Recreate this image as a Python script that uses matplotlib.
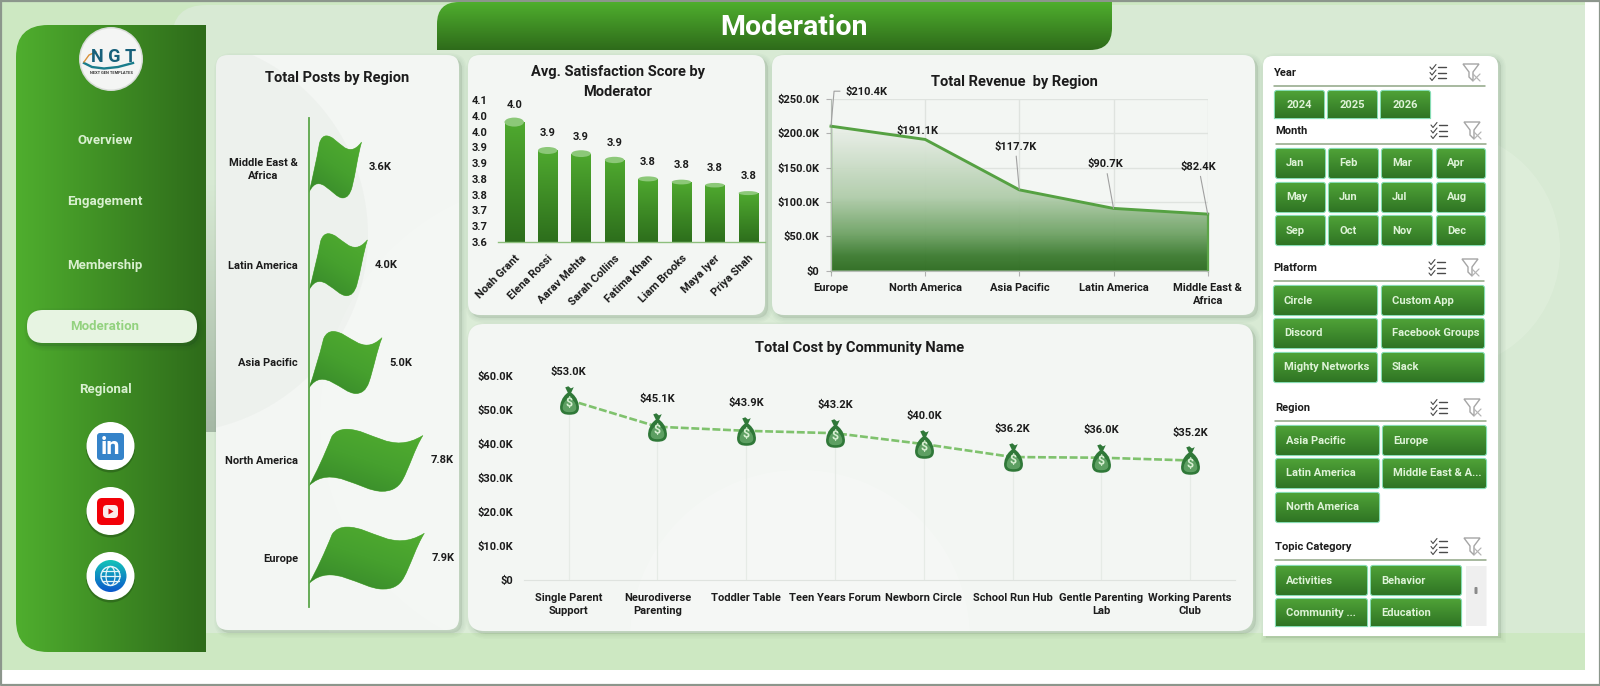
import numpy as np
import matplotlib
matplotlib.use('Agg')
import matplotlib.pyplot as plt
from matplotlib.path import Path
from matplotlib.patches import PathPatch, Circle, Ellipse, Polygon
from matplotlib.colors import LinearSegmentedColormap
from matplotlib.ticker import FuncFormatter, FixedLocator
from matplotlib.transforms import Affine2D

plt.rcParams['font.family'] = ['Roboto', 'DejaVu Sans']
plt.rcParams['font.weight'] = 'semibold'

W, H = 1600, 686

nav_items = ['Overview', 'Engagement', 'Membership', 'Moderation', 'Regional']

post_regions = ['Europe', 'North America', 'Asia Pacific', 'Latin America', 'Middle East &\nAfrica']
post_values = [7.9, 7.8, 5.0, 4.0, 3.6]

moderators = ['Noah Grant', 'Elena Rossi', 'Aarav Mehta', 'Sarah Collins', 'Fatima Khan', 'Liam Brooks', 'Maya Iyer', 'Priya Shah']
satisfaction = [4.02, 3.93, 3.92, 3.90, 3.84, 3.83, 3.82, 3.795]
satisfaction_ticks = [3.64, 3.69, 3.74, 3.79, 3.84, 3.89, 3.94, 3.99, 4.04, 4.09]

revenue_regions = ['Europe', 'North America', 'Asia Pacific', 'Latin America', 'Middle East &\nAfrica']
revenue_values = [210.4, 191.1, 117.7, 90.7, 82.4]

communities = ['Single Parent\nSupport', 'Neurodiverse\nParenting', 'Toddler Table', 'Teen Years Forum', 'Newborn Circle', 'School Run Hub', 'Gentle Parenting\nLab', 'Working Parents\nClub']
cost_values = [53.0, 45.1, 43.9, 43.2, 40.0, 36.2, 36.0, 35.2]

years = ['2024', '2025', '2026']
months = ['Jan', 'Feb', 'Mar', 'Apr', 'May', 'Jun', 'Jul', 'Aug', 'Sep', 'Oct', 'Nov', 'Dec']
platforms = ['Circle', 'Custom App', 'Discord', 'Facebook Groups', 'Mighty Networks', 'Slack']
slicer_regions = ['Asia Pacific', 'Europe', 'Latin America', 'Middle East & A...', 'North America']
topics = ['Activities', 'Behavior', 'Community ...', 'Education']

GREEN_TOP = '#4fae2e'
GREEN_DARK = '#2e6b1a'
INK = '#1c1c1c'
LIGHT_BG = '#d8ead4'

fig = plt.figure(figsize=(W / 100, H / 100), dpi=100, facecolor='white')
bg = fig.add_axes([0, 0, 1, 1])
bg.set_xlim(0, W)
bg.set_ylim(H, 0)
bg.axis('off')
bg.set_autoscale_on(False)


def px_axes(x0, y0, x1, y1):
    ax = fig.add_axes([x0 / W, 1 - y1 / H, (x1 - x0) / W, (y1 - y0) / H])
    ax.set_facecolor('none')
    return ax


def rr_path(x0, y0, x1, y1, tl=0, tr=0, br=0, bl=0):
    v = [(x0 + tl, y0), (x1 - tr, y0), (x1, y0), (x1, y0 + tr), (x1, y1 - br), (x1, y1), (x1 - br, y1),
         (x0 + bl, y1), (x0, y1), (x0, y1 - bl), (x0, y0 + tl), (x0, y0), (x0 + tl, y0), (x0 + tl, y0)]
    c = [Path.MOVETO, Path.LINETO, Path.CURVE3, Path.CURVE3, Path.LINETO, Path.CURVE3, Path.CURVE3,
         Path.LINETO, Path.CURVE3, Path.CURVE3, Path.LINETO, Path.CURVE3, Path.CURVE3, Path.CLOSEPOLY]
    return Path(v, c)


def fill(path, color, alpha=1, ec='none', lw=0):
    bg.add_patch(PathPatch(path, fc=color, ec=ec, lw=lw, alpha=alpha, zorder=1))


def grad_fill(path, c1, c2, horizontal=False):
    ext = path.get_extents()
    ramp = np.linspace(0, 1, 256)
    ramp = ramp.reshape(1, -1) if horizontal else ramp.reshape(-1, 1)
    cmap = LinearSegmentedColormap.from_list('g', [c1, c2])
    im = bg.imshow(ramp, cmap=cmap, aspect='auto', zorder=1, interpolation='bilinear',
                   extent=(ext.x0, ext.x1, ext.y1, ext.y0))
    im.set_clip_path(path, bg.transData)


def shadow(path, dx=3, dy=3, strength=0.024):
    moved = path.transformed(Affine2D().translate(dx, dy))
    for lw in [7, 5, 3, 1]:
        bg.add_patch(PathPatch(moved, fc='#25402a', ec='#25402a', lw=lw, alpha=strength, zorder=1))


def panel(x0, y0, x1, y1, r=12, color='#f3f6f3'):
    p = rr_path(x0, y0, x1, y1, r, r, r, r)
    shadow(p)
    fill(p, color)
    return p


def tint(center, radius, color, alpha, clip):
    disc = Circle(center, radius, fc=color, ec='none', alpha=alpha, zorder=1)
    bg.add_patch(disc)
    disc.set_clip_path(clip, bg.transData)


def pline(xs, ys, color, lw=1, alpha=1):
    bg.plot(xs, ys, color=color, lw=lw, alpha=alpha, zorder=1, solid_capstyle='round')


# page background
fill(rr_path(2, 2, 1585, 670), '#cde8c2')
light_area = rr_path(172, 5, 1585, 633, 34, 0, 0, 0)
fill(light_area, LIGHT_BG)
tint((1440, 250), 120, '#e2f0de', 0.6, light_area)
tint((610, 560), 290, '#e2f0de', 0.35, light_area)
grad_fill(rr_path(206, 180, 216, 432), LIGHT_BG, '#a5b8a5')
bg.plot([0.5, 0.5, 1599.5, 1599.5, 0.5], [0.5, 685, 685, 0.5, 0.5], color='#8c968c', lw=1.6, zorder=1)

# sidebar
side = rr_path(16, 25, 206, 652, 32, 0, 0, 32)
grad_fill(side, GREEN_TOP, GREEN_DARK, horizontal=True)

for name, y in zip(nav_items, [140.5, 202, 265, 327, 390]):
    if name == 'Moderation':
        pill = rr_path(27, 310, 197, 343, 16, 16, 16, 16)
        shadow(pill, 2, 3, 0.04)
        fill(pill, '#e7f4e2')
        bg.text(105, y, name, ha='center', va='center', fontsize=9.5, fontweight='bold', color='#93d27f')
    else:
        bg.text(105, y, name, ha='center', va='center', fontsize=9.5, fontweight='bold', color='#d9f0d0')

# logo badge
bg.add_patch(Circle((111, 59), 32, fc='#d9ddd9', ec='none', zorder=1))
bg.add_patch(Circle((111, 59), 30.5, fc='#f4f5f4', ec='none', zorder=1))
bg.plot([84, 92, 104, 118, 133], [63, 67, 68.5, 67, 63], color='#1a7d8c', lw=1.7, zorder=1)
bg.plot([84, 89, 96], [62, 55, 52], color='#d9913a', lw=1.0, zorder=1)
bg.text(114, 57, 'N G T', ha='center', va='center', fontsize=13, fontweight='bold', color='#17607a')
bg.text(111, 73.5, 'NEXT GEN TEMPLATES', ha='center', va='center', fontsize=2.9, fontweight='bold', color='#333333')


def badge(y):
    bg.add_patch(Circle((110.5, y + 2), 24.5, fc='#173a10', ec='none', alpha=0.35, zorder=1))
    bg.add_patch(Circle((110.5, y), 24, fc='white', ec='none', zorder=1))


# social icons
badge(446)
fill(rr_path(97, 433, 124, 460, 3, 3, 3, 3), '#3583c9')
bg.text(110.5, 447.5, 'in', ha='center', va='center', fontsize=17, fontweight='bold', color='white')
badge(511)
fill(rr_path(97, 498, 124, 525, 5, 5, 5, 5), '#f20008')
fill(rr_path(103, 505, 118, 518, 4, 4, 4, 4), '#fbeaea')
bg.add_patch(Polygon([[108.5, 508.5], [108.5, 514.5], [113.5, 511.5]], fc='#e00008', ec='none', zorder=1))
badge(576)
globe = Path.circle((110.5, 576), 16)
grad_fill(globe, '#14c4b8', '#0a57cc')
bg.add_patch(Circle((110.5, 576), 9.5, fc='none', ec='#e4f4f8', lw=1, zorder=1))
bg.add_patch(Ellipse((110.5, 576), 9, 19, fc='none', ec='#e4f4f8', lw=0.9, zorder=1))
for gy in [571, 576, 581]:
    half = np.sqrt(9.5 ** 2 - (gy - 576) ** 2)
    pline([110.5 - half, 110.5 + half], [gy, gy], '#e4f4f8', 0.9)

# header bar
bar_path = rr_path(437, 2, 1112, 50, 22, 0, 22, 0)
grad_fill(bar_path, GREEN_TOP, GREEN_DARK)
bg.text(794, 27.5, 'Moderation', ha='center', va='center', fontsize=20.5, fontweight='bold', color='white')

# chart cards
posts_card = panel(216, 55, 459, 630)
panel(468, 55, 765, 315)
panel(772, 55, 1255, 315)
cost_card = panel(468, 324, 1253, 631, r=16)
tint((170, 235), 198, '#5a6a5a', 0.035, posts_card)
tint((560, 420), 240, '#ffffff', 0.14, posts_card)
tint((800, 640), 170, '#ffffff', 0.2, cost_card)

bg.text(337, 78, 'Total Posts by Region', ha='center', va='center', fontsize=10.5, fontweight='bold', color=INK)
bg.text(618, 82, 'Avg. Satisfaction Score by\nModerator', ha='center', va='center', fontsize=10.5, fontweight='bold',
        color=INK, linespacing=1.5)
bg.text(1014, 82, 'Total Revenue  by Region', ha='center', va='center', fontsize=10.5, fontweight='bold', color=INK)
bg.text(860, 348, 'Total Cost by Community Name', ha='center', va='center', fontsize=10.5, fontweight='bold', color=INK)

# slicer panel
slicer_card = rr_path(1263, 56, 1498, 636, 10, 10, 0, 0)
shadow(slicer_card, 3, 2)
fill(slicer_card, 'white')


def slicer_header(name, x0, x1, y, rule_y):
    bg.text(x0, y, name, ha='left', va='center', fontsize=8, fontweight='bold', color=INK)
    pline([x0, x1], [rule_y, rule_y], '#8fa585', 1.1)
    ix = x1 - 47
    for k in range(3):
        yy = y - 6 + k * 5.5
        pline([ix - 8, ix - 6, ix - 2], [yy, yy + 2.5, yy - 2.5], '#4a4a4a', 0.8)
        pline([ix, ix + 8], [yy, yy], '#4a4a4a', 1.0)
    fx = x1 - 12
    bg.add_patch(Polygon([[fx - 10, y - 9], [fx + 6, y - 9], [fx, y - 1], [fx, y + 8], [fx - 4, y + 4], [fx - 4, y - 1]],
                         fc='none', ec='#a5a5a5', lw=1, zorder=1))
    pline([fx, fx + 7], [y + 1, y + 8], '#b5b5b5', 0.9)
    pline([fx + 7, fx], [y + 1, y + 8], '#b5b5b5', 0.9)


def slicer_button(label, x0, y0, x1, y1, center=False, clipped=False):
    p = rr_path(x0, y0, x1, y1, 2, 2, 0 if clipped else 2, 0 if clipped else 2)
    fill(p, 'none', ec='#86dcb4', lw=1.6)
    grad_fill(p, '#4fa237', '#2f7424')
    tx = (x0 + x1) / 2 if center else x0 + 10
    bg.text(tx, (y0 + y1) / 2 + (1 if clipped else 0), label, ha='center' if center else 'left', va='center',
            fontsize=8, fontweight='bold', color='#def3d7')


slicer_header('Year', 1274, 1485, 73, 86)
for label, x0 in zip(years, [1275, 1328, 1381]):
    slicer_button(label, x0, 91, x0 + 49, 118, center=True, clipped=True)

slicer_header('Month', 1275.5, 1486, 131, 144)
month_cols = [(1276, 1325), (1329, 1378), (1382, 1432), (1437, 1485)]
month_rows = [(149, 178), (183, 212), (216, 245)]
for i, label in enumerate(months):
    x0, x1 = month_cols[i % 4]
    y0, y1 = month_rows[i // 4]
    slicer_button(label, x0, y0, x1, y1)

slicer_header('Platform', 1273.5, 1484, 268, 281)
for i, label in enumerate(platforms):
    x0, x1 = [(1274, 1377), (1382, 1484)][i % 2]
    y0, y1 = [(286, 315), (319, 348), (353, 382)][i // 2]
    slicer_button(label, x0, y0, x1, y1)

slicer_header('Region', 1275, 1486, 408, 421)
for i, label in enumerate(slicer_regions):
    x0, x1 = [(1276, 1379), (1383, 1486)][i % 2]
    y0, y1 = [(426, 455), (459, 488), (493, 522)][i // 2]
    slicer_button(label, x0, y0, x1, y1)

slicer_header('Topic Category', 1275, 1486, 547, 560)
for i, label in enumerate(topics):
    x0, x1 = [(1276, 1367), (1371, 1461)][i % 2]
    y0, y1 = [(566, 595), (599, 626)][i // 2]
    slicer_button(label, x0, y0, x1, y1, clipped=i > 1)
fill(rr_path(1466, 566, 1486.5, 626), '#efefef')
fill(rr_path(1474.5, 587, 1477.5, 594, 1, 1, 1, 1), '#8a8a8a')

# posts by region: flags along a vertical pole
flag_ax = px_axes(309, 118, 455, 607)
flag_ax.set_xlim(0, 10)
flag_ax.set_ylim(-0.5, 4.5)
flag_codes = [Path.MOVETO] + [Path.CURVE4] * 18 + [Path.CLOSEPOLY]
flag_x = [0, 0.06, 0.14, 0.20, 0.23, 0.28, 0.33, 0.55, 0.72, 1.0, 0.93, 0.88, 0.82, 0.78, 0.72, 0.64, 0.45, 0.2, 0, 0]
flag_y = [0.91, 0.72, 0.40, 0.12, 0.03, 0, 0, 0, 0.42, 0.10, 0.30, 0.62, 0.82, 0.95, 1.0, 1.0, 1.0, 0.55, 0.91, 0.91]
flag_cmap = LinearSegmentedColormap.from_list('flag', ['#35852a', '#46a02e', '#52ae30'])
flag_ramp = np.add.outer(np.linspace(1, 0, 64), np.linspace(0, 0.6, 64)) / 1.6
for i, (name, value) in enumerate(zip(post_regions, post_values)):
    verts = np.column_stack([np.array(flag_x) * value, i + (0.5 - np.array(flag_y)) * 0.634])
    path = Path(verts, flag_codes)
    flag_ax.add_patch(PathPatch(path, fc='#3f9429', ec='#6dbb55', lw=0.5))
    im = flag_ax.imshow(flag_ramp, cmap=flag_cmap, aspect='auto', extent=(0, value, i - 0.32, i + 0.32), zorder=2,
                        origin='upper')
    im.set_clip_path(path, flag_ax.transData)
    flag_ax.text(value + 0.52, i, f'{value:.1f}K', ha='left', va='center', fontsize=8, color=INK)
flag_ax.set_xlim(0, 10)
flag_ax.set_ylim(-0.5, 4.5)
flag_ax.set_yticks(range(5))
flag_ax.set_yticklabels(post_regions, fontsize=8, color=INK, multialignment='center', linespacing=1.4)
flag_ax.set_xticks([])
flag_ax.tick_params(axis='y', length=0, pad=8)
for side_name in ['top', 'right', 'bottom']:
    flag_ax.spines[side_name].set_visible(False)
flag_ax.spines['left'].set_color('#5ba64a')
flag_ax.spines['left'].set_linewidth(1.3)

# satisfaction score: cylinders
sat_ax = px_axes(497.5, 100, 765, 242)
xs = np.arange(len(moderators))
base = satisfaction_ticks[0]
top = satisfaction_ticks[-1]
bar_cmap = LinearSegmentedColormap.from_list('bar', ['#2d6e1c', '#4fa92f'])
sat_ax.set_xlim(-0.5, 7.5)
sat_ax.set_ylim(base, top)
sat_ax.set_autoscale_on(False)
bars = sat_ax.bar(xs, [v - base for v in satisfaction], bottom=base, width=0.58, color='#3f8f28', zorder=2)
px_per_unit = 142 / (top - base)
for x, v, rect in zip(xs, satisfaction, bars):
    im = sat_ax.imshow(np.linspace(1, 0, 128).reshape(-1, 1), cmap=bar_cmap, aspect='auto', zorder=2.1,
                       extent=(x - 0.29, x + 0.29, base, v))
    im.set_clip_path(rect)
    cap_px = 4 + 5 * (v - satisfaction[-1]) / (satisfaction[0] - satisfaction[-1])
    sat_ax.add_patch(Ellipse((x, v), 0.58, cap_px / px_per_unit, fc='#8cc878', ec='none', zorder=2.2, clip_on=False))
    sat_ax.annotate(f'{v:.1f}', (x, v), xytext=(0, 17), textcoords='offset pixels', ha='center', va='center',
                    fontsize=8, color=INK)
sat_ax.yaxis.set_major_locator(FixedLocator(satisfaction_ticks))
sat_ax.yaxis.set_major_formatter(FuncFormatter(lambda v, p: f'{v:.1f}'))
sat_ax.set_xticks(xs)
sat_ax.set_xticklabels(moderators, rotation=45, ha='right', rotation_mode='anchor', fontsize=8, color=INK)
sat_ax.tick_params(axis='x', length=0, pad=8)
sat_ax.tick_params(axis='y', length=0, pad=7, labelsize=8, labelcolor=INK)
for side_name in ['top', 'right', 'left']:
    sat_ax.spines[side_name].set_visible(False)
sat_ax.spines['bottom'].set_color('#8dbf7d')
sat_ax.spines['bottom'].set_linewidth(1)

# revenue: area chart with leader lines
rev_ax = px_axes(831, 99, 1207.7, 270.7)
rx = np.arange(len(revenue_regions))
rev_ax.set_xlim(0, 4)
rev_ax.set_ylim(0, 250)
rev_ax.set_autoscale_on(False)
rev_ax.grid(True, color='#dfe3df', lw=1)
rev_ax.set_axisbelow(True)
area = rev_ax.fill_between(rx, revenue_values, 0, color='none', zorder=1)
area_cmap = LinearSegmentedColormap.from_list('area', [(0, '#2b6a1e'), (0.1, '#3a7a2e'), (0.25, '#6ea264'),
                                                      (0.5, '#b0ccaa'), (1, '#eef2ed')])
im = rev_ax.imshow(np.linspace(1, 0, 256).reshape(-1, 1), cmap=area_cmap, aspect='auto', alpha=0.95, zorder=1.5,
                   extent=(0, 4, 0, 215))
im.set_clip_path(area.get_paths()[0], rev_ax.transData)
rev_ax.plot([rx[0], rx[0]], [0, revenue_values[0]], color='#5ca548', lw=1, clip_on=False, zorder=2)
rev_ax.plot([rx[-1], rx[-1]], [0, revenue_values[-1]], color='#5ca548', lw=1.6, clip_on=False, zorder=2)
rev_ax.plot(rx, revenue_values, color='#55a142', lw=2.1, zorder=3, clip_on=False)
label_offsets = [(35, 34), (-8, 9), (-4, 43), (-8, 44), (-9, 47)]
for i, (x, v, (dx, dy)) in enumerate(zip(rx, revenue_values, label_offsets)):
    leader = None
    if i >= 2:
        leader = dict(arrowstyle='-', color='#a0a0a0', lw=0.8, shrinkA=1, shrinkB=0)
    rev_ax.annotate(f'${v:.1f}K', (x, v), xytext=(dx, dy), textcoords='offset pixels', ha='center', va='center',
                    fontsize=8, color=INK, zorder=4, annotation_clip=False, arrowprops=leader)
rev_ax.annotate('', (0, revenue_values[0]), xytext=(9, 35), textcoords='offset pixels', annotation_clip=False,
                arrowprops=dict(arrowstyle='-', color='#a0a0a0', lw=0.8, shrinkA=0, shrinkB=0,
                                connectionstyle='angle,angleA=0,angleB=85,rad=0'))
rev_ax.set_xticks(rx)
rev_ax.set_xticklabels(revenue_regions, fontsize=8, color=INK, multialignment='center', linespacing=1.4)
rev_ax.set_yticks([0, 50, 100, 150, 200, 250])
rev_ax.yaxis.set_major_formatter(FuncFormatter(lambda v, p: '$0' if v == 0 else f'${v:.1f}K'))
rev_ax.tick_params(axis='both', length=3.5, color='#b0b0b0', width=0.8, labelsize=8, labelcolor=INK, pad=5)
for side_name in ['top', 'right']:
    rev_ax.spines[side_name].set_visible(False)
rev_ax.spines['left'].set_color('#b5bcb5')
rev_ax.spines['bottom'].set_color('#b5bcb5')

# cost: dashed line with money bag markers
cost_ax = px_axes(524.3, 376, 1234.6, 580.3)
cx = np.arange(len(communities))
cost_ax.set_xlim(-0.5, 7.5)
cost_ax.set_ylim(0, 60)
bag_v = [(-0.12, 0.55), (-0.55, 0.25), (-0.68, -0.25), (-0.66, -0.55), (-0.62, -0.95), (-0.3, -1), (0, -1),
         (0.3, -1), (0.62, -0.95), (0.66, -0.55), (0.68, -0.25), (0.55, 0.25), (0.12, 0.55),
         (0.3, 0.94), (0.1, 0.85), (-0.08, 1.0), (-0.3, 0.92), (-0.12, 0.55)]
bag_c = [Path.MOVETO] + [Path.CURVE4] * 12 + [Path.LINETO, Path.LINETO, Path.LINETO, Path.LINETO, Path.CLOSEPOLY]
bag = Path(bag_v, bag_c)
shine = Path(np.array(bag_v[:13] + [bag_v[0]]) * [0.72, 0.62] + [0, -0.2],
             [Path.MOVETO] + [Path.CURVE4] * 12 + [Path.CLOSEPOLY])
cost_ax.vlines(cx, 0, cost_values, color='#e6ebe6', lw=0.9, zorder=1)
cost_ax.plot(cx, cost_values, color='#7fc26d', lw=1.9, ls=(0, (3, 1)), zorder=2)
cost_ax.plot(cx, cost_values, ls='none', marker=bag, ms=20.5, mfc='#2f7838', mec='#2f7838', mew=0, zorder=3)
cost_ax.plot(cx, cost_values, ls='none', marker=shine, ms=16.8, mfc='#5d9f62', mec='none', zorder=3.1)
for x, v in zip(cx, cost_values):
    cost_ax.text(x, v - 1.1, '$', ha='center', va='center', fontsize=9, fontweight='bold', color='#d8efd2', zorder=4)
    cost_ax.annotate(f'${v:.1f}K', (x, v), xytext=(0, 28), textcoords='offset pixels', ha='center', va='center',
                     fontsize=8, color=INK, zorder=4)
cost_ax.set_xticks(cx)
cost_ax.set_xticklabels(communities, fontsize=8, color=INK, multialignment='center', linespacing=1.4)
cost_ax.set_yticks(np.arange(0, 61, 10))
cost_ax.yaxis.set_major_formatter(FuncFormatter(lambda v, p: '$0' if v == 0 else f'${v:.1f}K'))
cost_ax.tick_params(axis='x', length=0, pad=9)
cost_ax.tick_params(axis='y', length=0, pad=8, labelsize=8, labelcolor=INK)
for side_name in ['top', 'right', 'left']:
    cost_ax.spines[side_name].set_visible(False)
cost_ax.spines['bottom'].set_color('#dfe3df')

fig.savefig('out.png', dpi=100)
